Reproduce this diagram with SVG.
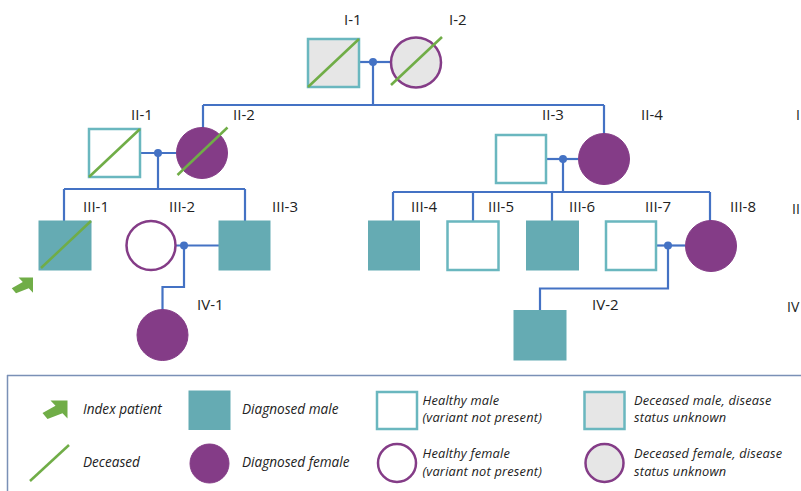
<svg xmlns="http://www.w3.org/2000/svg" width="801" height="491" viewBox="0 0 801 491">
<defs>
<style>
.lbl{font-family:"Open Sans","Liberation Sans",sans-serif;font-size:15px;fill:#222}
.gen{font-family:"Open Sans","Liberation Sans",sans-serif;font-size:14px;fill:#222}
.leg{font-family:"Open Sans","Liberation Sans",sans-serif;font-size:13.6px;font-style:italic;fill:#222}
.leg2{font-family:"Open Sans","Liberation Sans",sans-serif;font-size:12.8px;font-style:italic;fill:#222;letter-spacing:0.2px}
.hm{fill:#fff;stroke:#6ab7bf;stroke-width:2.5}
.dm{fill:#65abb3;stroke:#65abb3;stroke-width:1}
.um{fill:#e6e6e6;stroke:#6ab7bf;stroke-width:2.5}
.hf{fill:#fff;stroke:#843c87;stroke-width:2.5}
.df{fill:#843c87;stroke:#843c87;stroke-width:1}
.uf{fill:#e6e6e6;stroke:#843c87;stroke-width:2.5}
.dec{stroke:#70ad47;stroke-width:2.5;fill:none}
.con{stroke:#4472c4;stroke-width:2.2;fill:none}
.dot{fill:#4472c4}
</style>
<path id="arrow" d="M0,0 L-17,0 L-12,5.3 L-25,12.5 L-20,18.5 L-5,12.7 L0,18 Z" fill="#70ad47"/>
</defs>
<rect width="801" height="491" fill="#fff"/>

<g id="connectors">
<path class="con" d="M359,62 H391"/>
<path class="con" d="M373,62 V105 M203,105 H604 M203,105 V128 M604,105 V134"/>
<path class="con" d="M140,153 H176"/>
<path class="con" d="M158,153 V189 M64,189 H245 M64,189 V221 M245,189 V221"/>
<path class="con" d="M546,159 H578"/>
<path class="con" d="M563,159 V192 M393,192 H710 M393,192 V221 M473,192 V221 M552,192 V221 M710,192 V221"/>
<path class="con" d="M176,245.5 H219"/>
<path class="con" d="M184,245.5 V287 H162.5 V310"/>
<path class="con" d="M656,245.5 H685"/>
<path class="con" d="M668,245.5 V288.5 H540 V311"/>
<circle class="dot" cx="373" cy="62" r="4"/>
<circle class="dot" cx="158" cy="153" r="4"/>
<circle class="dot" cx="563" cy="159" r="4"/>
<circle class="dot" cx="184" cy="245.5" r="4"/>
<circle class="dot" cx="668" cy="245.5" r="4"/>
</g>

<g id="I-1"><rect class="um" x="308" y="39" width="51" height="48"/><path class="dec" d="M308,87 L359,39"/><text class="lbl" x="344" y="25">I-1</text></g>
<g id="I-2"><circle class="uf" cx="416" cy="62.5" r="25"/><path class="dec" d="M391,85 L442,37"/><text class="lbl" x="449" y="25">I-2</text></g>

<g id="II-1"><rect class="hm" x="89" y="129" width="51" height="48"/><path class="dec" d="M89,177 L140,129"/><text class="lbl" x="131" y="120">II-1</text></g>
<g id="II-2"><circle class="df" cx="202" cy="153" r="25.5"/><path class="dec" d="M177.5,175 L227.5,127.5"/><text class="lbl" x="233" y="120">II-2</text></g>
<g id="II-3"><rect class="hm" x="496" y="135" width="50" height="48"/><text class="lbl" x="542" y="120">II-3</text></g>
<g id="II-4"><circle class="df" cx="604" cy="159" r="25.5"/><text class="lbl" x="641" y="120">II-4</text></g>

<g id="III-1"><rect class="dm" x="39" y="221" width="52" height="49"/><path class="dec" d="M41,268 L91,221"/><text class="lbl" x="83" y="212">III-1</text><use href="#arrow" transform="translate(33,277.5) scale(0.85)"/></g>
<g id="III-2"><circle class="hf" cx="151" cy="245.5" r="24.5"/><text class="lbl" x="169" y="212">III-2</text></g>
<g id="III-3"><rect class="dm" x="219" y="221" width="51" height="49"/><text class="lbl" x="272" y="212">III-3</text></g>
<g id="III-4"><rect class="dm" x="368.5" y="221" width="51" height="49"/><text class="lbl" x="411" y="212">III-4</text></g>
<g id="III-5"><rect class="hm" x="447.5" y="221.5" width="51" height="48.5"/><text class="lbl" x="488" y="212">III-5</text></g>
<g id="III-6"><rect class="dm" x="526.5" y="221" width="52" height="49"/><text class="lbl" x="569" y="212">III-6</text></g>
<g id="III-7"><rect class="hm" x="606" y="221.5" width="50" height="48.5"/><text class="lbl" x="645" y="212">III-7</text></g>
<g id="III-8"><circle class="df" cx="711" cy="246" r="25.5"/><text class="lbl" x="730" y="212">III-8</text></g>

<g id="IV-1"><circle class="df" cx="162.5" cy="335" r="25.5"/><text class="lbl" x="197" y="310">IV-1</text></g>
<g id="IV-2"><rect class="dm" x="514" y="310.5" width="52" height="49.5"/><text class="lbl" x="592" y="310">IV-2</text></g>

<g id="generations">
<text class="gen" x="796" y="120">I</text>
<text class="gen" x="792" y="214">II</text>
<text class="gen" x="787" y="312">IV</text>
</g>

<g id="legend">
<path d="M7,375.5 H801 M7.5,375 V491" stroke="#7a90b6" stroke-width="1.5" fill="none"/>
<use href="#arrow" transform="translate(67.5,400.5)"/>
<text class="leg" x="83" y="414">Index patient</text>
<path class="dec" d="M30,481 L69,445"/>
<text class="leg" x="83" y="467">Deceased</text>
<rect class="dm" x="189" y="391" width="41" height="38.5"/>
<text class="leg" x="242" y="414">Diagnosed male</text>
<circle class="df" cx="209.5" cy="463.5" r="19.5"/>
<text class="leg" x="242" y="467">Diagnosed female</text>
<rect class="hm" x="377" y="392" width="40" height="37"/>
<text class="leg2" x="422.5" y="404.5">Healthy male</text>
<text class="leg2" x="422.5" y="422">(variant not present)</text>
<circle class="hf" cx="397" cy="463" r="19"/>
<text class="leg2" x="422.5" y="458">Healthy female</text>
<text class="leg2" x="422.5" y="475.5">(variant not present)</text>
<rect class="um" x="584.5" y="392" width="40" height="37"/>
<text class="leg2" x="634" y="404.5">Deceased male, disease</text>
<text class="leg2" x="634" y="422">status unknown</text>
<circle class="uf" cx="604.5" cy="463" r="19"/>
<text class="leg2" x="634" y="458">Deceased female, disease</text>
<text class="leg2" x="634" y="475.5">status unknown</text>
</g>
</svg>
